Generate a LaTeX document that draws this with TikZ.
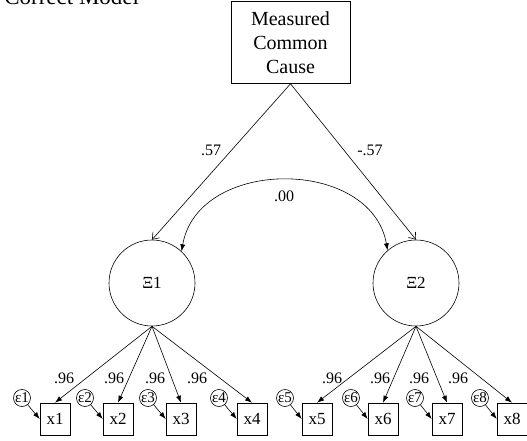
\documentclass[tikz,border=0pt]{standalone}
\usepackage{fontspec}
\setmainfont{Liberation Serif}
\usetikzlibrary{arrows.meta}
\tikzset{
  lat/.style={draw, circle, minimum size=86pt, inner sep=0pt, font=\fontsize{17}{19}\selectfont},
  obs/.style={draw, rectangle, minimum width=30pt, minimum height=32pt, inner sep=0pt, font=\fontsize{17}{19}\selectfont},
  err/.style={draw, circle, minimum size=17pt, inner sep=0pt, font=\fontsize{15}{16}\selectfont},
  lbl/.style={font=\fontsize{16}{18}\selectfont, inner sep=0pt},
  open/.style={-{Straight Barb[length=6pt,width=9pt]}},
  fill/.style={-{Latex[length=7pt,width=5pt]}},
  dbl/.style={{Latex[length=7pt,width=5pt]}-{Latex[length=7pt,width=5pt]}}
}
\begin{document}
\begin{tikzpicture}[x=1pt,y=-1pt,line width=0.6pt]
\useasboundingbox (0,0) rectangle (527,441);
\clip (0,0) rectangle (527,441);
\node[anchor=base west, inner sep=0pt, font=\fontsize{23}{26}\selectfont] (title) at (4,4.5) {Correct Model};
\node[draw, minimum width=119pt, minimum height=82pt, align=center, inner sep=0pt,
      font=\fontsize{20}{24}\selectfont] (mcc) at (290.5,42.5) {Measured\\Common\\Cause};
\node[lat] (c1) at (152,283) {Ξ1};
\node[lat] (c2) at (416,283) {Ξ2};
\draw[open] (mcc.south) -- (c1.north);
\draw[open] (mcc.south) -- (c2.north);
\node[lbl] (l57a) at (211,150) {.57};
\node[lbl] (l57b) at (370,150) {-.57};
\draw[dbl] (c1.47) .. controls (198,157) and (371,157) .. (c2.131);
\node[lbl] (l00) at (284,196) {.00};
\foreach \i/\x/\lx in {1/55/64,2/118/114,3/181/155,4/252/197}{
  \node[obs] (x\i) at (\x,419) {x\i};
  \node[err] (e\i) at (\x-33,398) {ε\i};
  \draw[fill] (c1.south) -- (x\i.north);
  \draw[fill] (e\i) -- (x\i.west);
  \node[lbl] (w\i) at (\lx,378) {.96};
}
\foreach \i/\x/\lx in {5/317/332,6/383/380,7/447/419,8/512/458}{
  \node[obs] (x\i) at (\x,419) {x\i};
  \node[err] (e\i) at (\x-32,398) {ε\i};
  \draw[fill] (c2.south) -- (x\i.north);
  \draw[fill] (e\i) -- (x\i.west);
  \node[lbl] (w\i) at (\lx,378) {.96};
}
\end{tikzpicture}
\end{document}
